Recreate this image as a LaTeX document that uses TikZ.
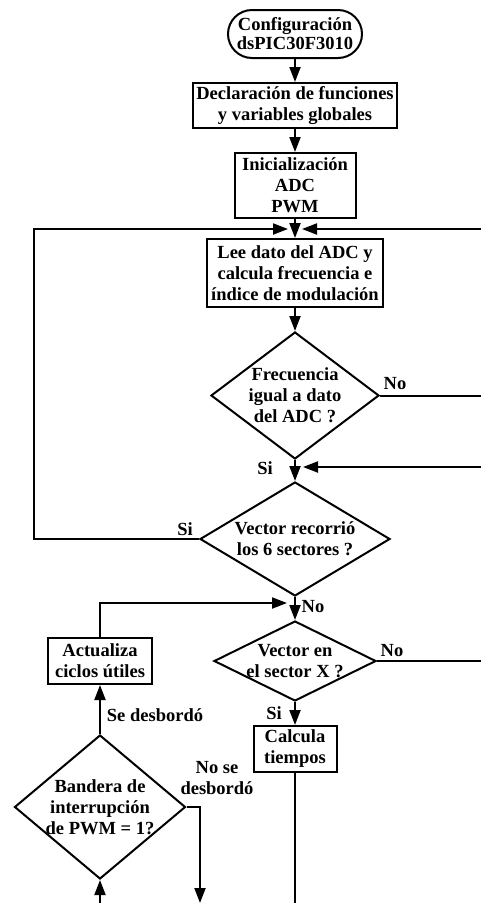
\documentclass[tikz,border=0pt]{standalone}
\usepackage{fontspec}
\setmainfont{Liberation Serif}
\usetikzlibrary{arrows.meta,shapes.geometric}
\begin{document}
\begin{tikzpicture}[x=1pt,y=-1pt,
  every node/.style={font=\bfseries\fontsize{18.5}{21}\selectfont},
  line/.style={line width=2pt},
  arr/.style={line, -{Triangle[length=15pt,width=11pt]}},
  box/.style={draw,line width=2pt,inner sep=0pt,align=center},
  dshape/.style={draw,diamond,line width=2pt,inner sep=0pt},
  txt/.style={align=center,inner sep=0pt},
  lbl/.style={inner sep=0pt,align=center}]
\useasboundingbox (0,0) rectangle (481,903);

% nodes
\node[box,rounded corners=24pt,minimum width=134pt,minimum height=48pt,
  font=\bfseries\fontsize{18.5}{19}\selectfont] (start) at (295,34) {Configuración\\dsPIC30F3010};
\node[box,minimum width=204pt,minimum height=45pt] (b2) at (295,105.5) {Declaración de funciones\\y variables globales};
\node[box,minimum width=121pt,minimum height=65pt] (b3) at (295,185.5) {Inicialización\\ADC\\PWM};
\node[box,minimum width=176pt,minimum height=68pt] (b4) at (295,273) {Lee dato del ADC y\\calcula frecuencia e\\índice de modulación};

\node[dshape,minimum width=168pt,minimum height=127pt] (d1) at (295,395.5) {};
\node[txt] (d1t) at (d1) {Frecuencia\\igual a dato\\del ADC ?};
\node[dshape,minimum width=190pt,minimum height=114pt] (d2) at (295,539) {};
\node[txt] (d2t) at (d2) {Vector recorrió\\los 6 sectores ?};
\node[dshape,minimum width=162pt,minimum height=80pt] (d3) at (295,661) {};
\node[txt] (d3t) at (d3) {Vector en\\el sector X ?};
\node[box,minimum width=83pt,minimum height=46pt] (b6) at (295,749) {Calcula\\tiempos};

\node[box,minimum width=104pt,minimum height=46pt] (b5) at (100,661) {Actualiza\\ciclos útiles};
\node[dshape,minimum width=171pt,minimum height=144pt] (d4) at (100,807) {};
\node[txt] (d4t) at (d4) {Bandera de\\interrupción\\de PWM = 1?};

% coordinates
\coordinate (j1) at (295,229);
\coordinate (j2) at (295,467);
\coordinate (j3) at (295,603);
\coordinate (lc) at (34,229);
\coordinate (r1) at (481,229);
\coordinate (r2) at (481,395.5);
\coordinate (r3) at (481,467);
\coordinate (r4) at (481,661);
\coordinate (bot) at (295,903);
\coordinate (bl) at (100,903);
\coordinate (br) at (200,903);

% connectors
\draw[arr] (start) -- (b2);
\draw[arr] (b2) -- (b3);
\draw[arr] (b3) -- (b4);
\draw[arr] (b4) -- (d1);
\draw[arr] (d1) -- (d2);
\draw[arr] (d2) -- (d3);
\draw[arr] (d3) -- (b6);
\draw[line] (b6) -- (bot);
\draw[arr,shorten >=7pt] (d2.west) -| (lc) -- (j1);
\draw[arr,shorten >=7pt] (r1) -- (j1);
\draw[line] (d1.east) -- (r2);
\draw[arr,shorten >=8pt] (r3) -- (j2);
\draw[line] (d3.east) -- (r4);
\draw[arr,shorten >=8pt] (b5.north) |- (j3);
\draw[arr] (d4) -- (b5);
\draw[arr] (d4.east) -| (br);
\draw[arr] (bl) -- (d4.south);

% labels
\node[lbl] at (395,384) {No};
\node[lbl] at (265,468) {Si};
\node[lbl] at (185,529) {Si};
\node[lbl] at (313,607) {No};
\node[lbl] at (392,651) {No};
\node[lbl] at (274,713) {Si};
\node[lbl] at (155,715) {Se desbordó};
\node[lbl] at (217,778) {No se\\desbordó};
\end{tikzpicture}
\end{document}
